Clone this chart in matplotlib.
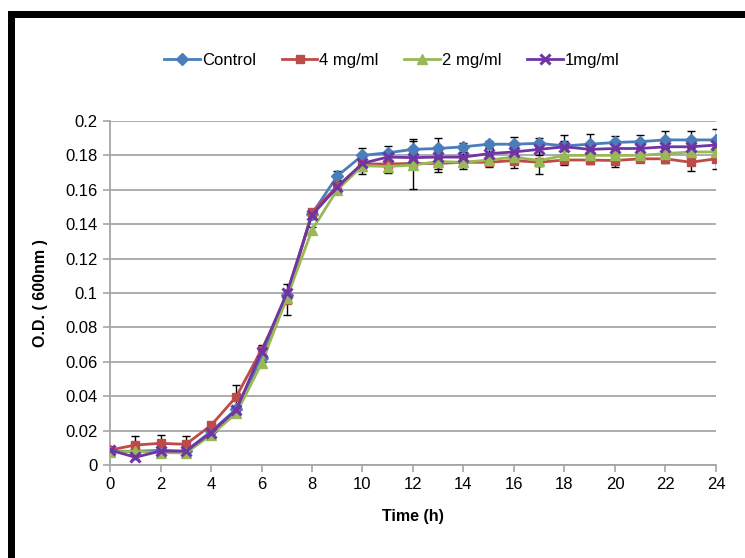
import matplotlib
matplotlib.use("Agg")
import matplotlib.pyplot as plt
from matplotlib.patches import Rectangle

# ---------------- data ----------------
time_h = list(range(0, 25))
control = [0.008, 0.008, 0.0085, 0.008, 0.0195, 0.0325, 0.062, 0.099, 0.146, 0.168, 0.180,
           0.1815, 0.1835, 0.184, 0.185, 0.1865, 0.1865, 0.187, 0.1855, 0.1865, 0.1875,
           0.188, 0.189, 0.189, 0.189]
mg4 = [0.0087, 0.0116, 0.0126, 0.012, 0.023, 0.0397, 0.067, 0.096, 0.147, 0.162, 0.175,
       0.175, 0.1753, 0.1753, 0.176, 0.176, 0.177, 0.176, 0.1773, 0.1773, 0.177,
       0.178, 0.178, 0.176, 0.178]
mg2 = [0.0075, 0.008, 0.0072, 0.007, 0.0174, 0.030, 0.059, 0.097, 0.1366, 0.160, 0.174,
       0.1735, 0.1744, 0.1764, 0.176, 0.1773, 0.179, 0.177, 0.180, 0.180, 0.180,
       0.180, 0.181, 0.182, 0.182]
mg1 = [0.0087, 0.0045, 0.0081, 0.008, 0.0188, 0.032, 0.0659, 0.0998, 0.1453, 0.1615, 0.1754,
       0.179, 0.1787, 0.179, 0.179, 0.181, 0.182, 0.1835, 0.185, 0.1835, 0.184,
       0.184, 0.185, 0.185, 0.186]

control_err = [0.001, 0.001, 0.001, 0.001, 0.001, 0.002, 0.002, 0.003, 0.002, 0.003, 0.004,
               0.004, 0.006, 0.006, 0.002, 0.002, 0.004, 0.003, 0.003, 0.006, 0.004,
               0.004, 0.005, 0.005, 0.0066]
mg4_err = [0.001, 0.0052, 0.005, 0.0047, 0.001, 0.0068, 0.003, 0.009, 0.002, 0.003, 0.006,
           0.005, 0.003, 0.003, 0.004, 0.003, 0.0045, 0.002, 0.003, 0.0025, 0.004,
           0.002, 0.0025, 0.005, 0.006]
mg2_err = [0.001, 0.001, 0.001, 0.001, 0.001, 0.001, 0.002, 0.002, 0.002, 0.002, 0.003,
           0.003, 0.014, 0.006, 0.003, 0.003, 0.003, 0.008, 0.003, 0.003, 0.003,
           0.003, 0.003, 0.003, 0.003]
mg1_err = [0.001, 0.001, 0.001, 0.001, 0.001, 0.001, 0.002, 0.002, 0.002, 0.004, 0.003,
           0.003, 0.003, 0.003, 0.003, 0.003, 0.003, 0.003, 0.007, 0.003, 0.003,
           0.003, 0.003, 0.003, 0.003]

labels = ["Control", "4 mg/ml", "2 mg/ml", "1mg/ml"]
x_ticks = list(range(0, 25, 2))
y_ticks = [0, 0.02, 0.04, 0.06, 0.08, 0.1, 0.12, 0.14, 0.16, 0.18, 0.2]
y_ticklabels = ["0", "0.02", "0.04", "0.06", "0.08", "0.1", "0.12", "0.14", "0.16", "0.18", "0.2"]

# ---------------- style ----------------
plt.rcParams['font.family'] = ['Liberation Sans', 'DejaVu Sans']

colors = ["#4a7ebb", "#be4b48", "#98b954", "#7035a5"]
markers = ["D", "s", "^", "x"]
msizes = [6, 5.5, 7.5, 7.5]

fig = plt.figure(figsize=(7.45, 5.58), dpi=100)
ax = fig.add_axes([0.1477, 0.1667, 0.8133, 0.6165])

series = [control, mg4, mg2, mg1]
errs = [control_err, mg4_err, mg2_err, mg1_err]
handles = []
for s, e in zip(series, errs):
    ax.errorbar(time_h, s, yerr=e, fmt='none', ecolor='black', elinewidth=1.0,
                capsize=3, capthick=1.0, zorder=2)
for s, c, m, ms, lab in zip(series, colors, markers, msizes, labels):
    mew = 2.2 if m == 'x' else 1
    h, = ax.plot(time_h, s, color=c, lw=2.0, marker=m, markersize=ms,
                 markeredgecolor=c, markerfacecolor=c, markeredgewidth=mew,
                 label=lab, zorder=3)
    handles.append(h)

ax.set_xlim(0, 24)
ax.set_ylim(0, 0.2)
ax.set_xticks(x_ticks)
ax.set_xticklabels([str(v) for v in x_ticks], fontsize=12)
ax.set_yticks(y_ticks)
ax.set_yticklabels(y_ticklabels, fontsize=12)
ax.grid(axis='y', color='#a6a6a6', lw=1.3, zorder=0)
ax.set_axisbelow(True)
for sp in ['top', 'right']:
    ax.spines[sp].set_visible(False)
for sp in ['left', 'bottom']:
    ax.spines[sp].set_color('#a6a6a6')
    ax.spines[sp].set_linewidth(1.3)
ax.tick_params(axis='both', direction='out', length=5, width=1.2, color='#a6a6a6',
               labelcolor='black', pad=4)

ax.set_xlabel("Time (h)", fontsize=11.5, fontweight='bold', labelpad=12)
ax.set_ylabel("O.D. ( 600nm )", fontsize=11.5, fontweight='bold', labelpad=12)

fig.legend(handles=handles, labels=labels, loc='center', bbox_to_anchor=(0.526, 0.892),
           ncol=4, frameon=False, fontsize=12, handlelength=2.15, columnspacing=1.55,
           handletextpad=0.1, numpoints=1)

# black frame (top and left)
fig.patches.append(Rectangle((8 / 745, 0), 7 / 745, 1 - 11 / 558, transform=fig.transFigure,
                             facecolor='black', edgecolor='none', zorder=10))
fig.patches.append(Rectangle((8 / 745, 1 - 18 / 558), 1, 7 / 558, transform=fig.transFigure,
                             facecolor='black', edgecolor='none', zorder=10))

fig.savefig("out.png", dpi=100)
